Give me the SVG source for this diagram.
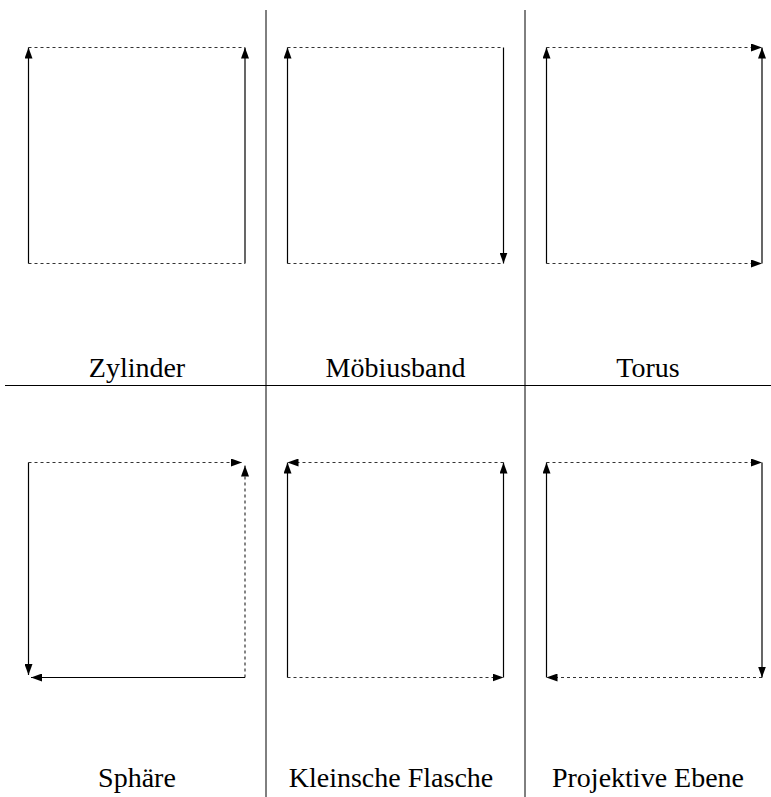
<svg xmlns="http://www.w3.org/2000/svg" width="771" height="797" viewBox="0 0 771 797">
<style>
.grid{stroke:#000;stroke-width:1;fill:none}
.solid{stroke:#000;stroke-width:1.2;fill:none}
.dash{stroke:#333;stroke-width:1.2;fill:none;stroke-dasharray:3 3}
.label{font-family:"Liberation Serif","Times New Roman",serif;font-size:28px;fill:#000;text-anchor:middle}
</style>
<defs>
<marker id="ah" markerUnits="userSpaceOnUse" viewBox="0 0 11 8" refX="11" refY="4" markerWidth="11" markerHeight="8" orient="auto">
<path d="M0,0 L11,4 L0,8 z" fill="#000"/>
</marker>
</defs>
<g id="grid">
<line class="grid" x1="266" y1="10" x2="266" y2="797"/>
<line class="grid" x1="525" y1="10" x2="525" y2="797"/>
<line class="grid" x1="5" y1="385.5" x2="771" y2="385.5"/>
</g>
<g id="zylinder">
<line class="dash" x1="28.5" y1="47.5" x2="245" y2="47.5"/>
<line class="dash" x1="28.5" y1="263.5" x2="245" y2="263.5"/>
<line class="solid" x1="28.5" y1="263.5" x2="28.5" y2="47.5" marker-end="url(#ah)"/>
<line class="solid" x1="245" y1="263.5" x2="245" y2="47.5" marker-end="url(#ah)"/>
<text class="label" x="137" y="377">Zylinder</text>
</g>
<g id="moebiusband">
<line class="dash" x1="287.5" y1="47.5" x2="503.5" y2="47.5"/>
<line class="dash" x1="287.5" y1="263.5" x2="503.5" y2="263.5"/>
<line class="solid" x1="287.5" y1="263.5" x2="287.5" y2="47.5" marker-end="url(#ah)"/>
<line class="solid" x1="503.5" y1="47.5" x2="503.5" y2="263.5" marker-end="url(#ah)"/>
<text class="label" x="395.5" y="377">Möbiusband</text>
</g>
<g id="torus">
<line class="dash" x1="546.5" y1="47.5" x2="762" y2="47.5" marker-end="url(#ah)"/>
<line class="dash" x1="546.5" y1="263.5" x2="762" y2="263.5" marker-end="url(#ah)"/>
<line class="solid" x1="546.5" y1="263.5" x2="546.5" y2="47.5" marker-end="url(#ah)"/>
<line class="solid" x1="762" y1="263.5" x2="762" y2="47.5" marker-end="url(#ah)"/>
<text class="label" x="648" y="377">Torus</text>
</g>
<g id="sphaere">
<line class="dash" x1="28.5" y1="462.5" x2="242" y2="462.5" marker-end="url(#ah)"/>
<line class="dash" x1="245" y1="677.5" x2="245" y2="465.5" marker-end="url(#ah)"/>
<line class="solid" x1="28.5" y1="462.5" x2="28.5" y2="675" marker-end="url(#ah)"/>
<line class="solid" x1="245" y1="677.5" x2="31" y2="677.5" marker-end="url(#ah)"/>
<text class="label" x="137" y="787">Sphäre</text>
</g>
<g id="kleinsche-flasche">
<line class="dash" x1="503.5" y1="462.5" x2="287.5" y2="462.5" marker-end="url(#ah)"/>
<line class="dash" x1="287.5" y1="677.5" x2="503.5" y2="677.5" marker-end="url(#ah)"/>
<line class="solid" x1="287.5" y1="677.5" x2="287.5" y2="462.5" marker-end="url(#ah)"/>
<line class="solid" x1="503.5" y1="677.5" x2="503.5" y2="462.5" marker-end="url(#ah)"/>
<text class="label" x="391" y="787">Kleinsche Flasche</text>
</g>
<g id="projektive-ebene">
<line class="dash" x1="546.5" y1="462.5" x2="762" y2="462.5" marker-end="url(#ah)"/>
<line class="dash" x1="762" y1="677.5" x2="546.5" y2="677.5" marker-end="url(#ah)"/>
<line class="solid" x1="546.5" y1="677.5" x2="546.5" y2="462.5" marker-end="url(#ah)"/>
<line class="solid" x1="762" y1="462.5" x2="762" y2="677.5" marker-end="url(#ah)"/>
<text class="label" x="648" y="787">Projektive Ebene</text>
</g>
</svg>
